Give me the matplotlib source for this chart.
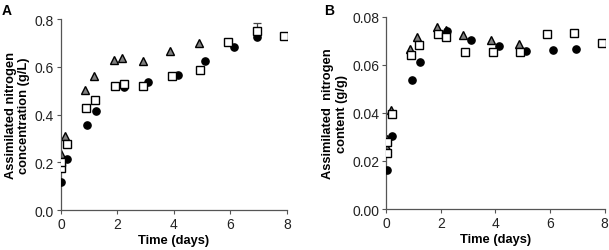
import matplotlib
matplotlib.use("Agg")
import matplotlib.pyplot as plt
import numpy as np

plt.rcParams['font.family'] = ['Liberation Sans', 'DejaVu Sans']

# Panel A: assimilated nitrogen concentration (g/L)
a_circ_x = [0.0, 0.2, 0.93, 1.23, 2.23, 3.1, 4.13, 5.1, 6.12, 6.93]
a_circ_y = [0.117, 0.216, 0.356, 0.415, 0.517, 0.535, 0.566, 0.626, 0.684, 0.723]
a_sq_x = [0.0, 0.02, 0.2, 0.88, 1.2, 1.91, 2.23, 2.91, 3.92, 4.92, 5.91, 6.93, 7.9]
a_sq_y = [0.176, 0.203, 0.275, 0.426, 0.462, 0.518, 0.528, 0.518, 0.563, 0.587, 0.702, 0.749, 0.728]
a_sq_err = [0, 0, 0, 0, 0, 0, 0, 0, 0, 0, 0, 0.033, 0]
a_tri_x = [0.0, 0.14, 0.85, 1.17, 1.88, 2.16, 2.91, 3.86, 4.88]
a_tri_y = [0.235, 0.311, 0.504, 0.563, 0.628, 0.635, 0.624, 0.665, 0.70]

# Panel B: assimilated nitrogen content (g/g)
b_circ_x = [0.05, 0.23, 0.96, 1.25, 2.23, 3.1, 4.13, 5.12, 6.11, 6.94]
b_circ_y = [0.0162, 0.0302, 0.0536, 0.061, 0.0738, 0.0702, 0.0678, 0.0657, 0.066, 0.0664]
b_sq_x = [0.05, 0.05, 0.22, 0.91, 1.2, 1.9, 2.2, 2.89, 3.9, 4.9, 5.88, 6.88, 7.89]
b_sq_y = [0.0235, 0.028, 0.0395, 0.064, 0.0682, 0.0729, 0.0716, 0.0651, 0.0651, 0.0651, 0.0726, 0.0731, 0.0692]
b_tri_x = [0.05, 0.05, 0.17, 0.88, 1.13, 1.86, 2.18, 2.83, 3.82, 4.85]
b_tri_y = [0.0255, 0.029, 0.041, 0.0664, 0.0716, 0.0757, 0.0746, 0.0722, 0.0701, 0.0684]

xticks = [0, 2, 4, 6, 8]
a_yticks = [0.0, 0.2, 0.4, 0.6, 0.8]
b_yticks = [0.00, 0.02, 0.04, 0.06, 0.08]

fig = plt.figure(figsize=(6.09, 2.51), dpi=100)
axA = fig.add_axes([0.100, 0.159, 0.371, 0.761])
axB = fig.add_axes([0.634, 0.163, 0.359, 0.767])

ms = 5.2
def style(ax):
    for s in ['top', 'right']:
        ax.spines[s].set_visible(False)
    for s in ['left', 'bottom']:
        ax.spines[s].set_color('#555555')
        ax.spines[s].set_linewidth(0.9)
    ax.tick_params(direction='out', length=3, width=0.8, colors='#555555',
                   labelcolor='#222222', labelsize=10, pad=2)

lab_fs = 9.3

# Panel A
axA.errorbar(a_sq_x, a_sq_y, yerr=[np.zeros(len(a_sq_err)), a_sq_err], fmt='none',
             ecolor='#444444', elinewidth=0.9, capsize=3, capthick=0.9, zorder=1)
axA.plot(a_tri_x, a_tri_y, linestyle='none', marker='^', ms=ms, mfc='#7f7f7f', mec='black', mew=1.0, zorder=2)
axA.plot(a_circ_x, a_circ_y, linestyle='none', marker='o', ms=ms, mfc='black', mec='black', zorder=3)
axA.plot(a_sq_x, a_sq_y, linestyle='none', marker='s', ms=ms, mfc='white', mec='black', mew=1.0, zorder=4)
axA.set_xlim(0, 8)
axA.set_ylim(0, 0.8)
axA.set_xticks(xticks)
axA.set_yticks(a_yticks)
axA.set_yticklabels([f"{v:.1f}" for v in a_yticks])
style(axA)
axA.set_xlabel('Time (days)', fontweight='bold', fontsize=lab_fs, labelpad=2)
axA.set_ylabel('Assimilated nitrogen\nconcentration (g/L)', fontweight='bold', fontsize=lab_fs, labelpad=3)
fig.text(0.003, 0.985, 'A', fontweight='bold', fontsize=10, va='top', ha='left')

# Panel B
axB.plot(b_tri_x, b_tri_y, linestyle='none', marker='^', ms=ms, mfc='#7f7f7f', mec='black', mew=1.0, zorder=2)
axB.plot(b_circ_x, b_circ_y, linestyle='none', marker='o', ms=ms, mfc='black', mec='black', zorder=3)
axB.plot(b_sq_x, b_sq_y, linestyle='none', marker='s', ms=ms, mfc='white', mec='black', mew=1.0, zorder=4)
axB.set_xlim(0, 8)
axB.set_ylim(0, 0.08)
axB.set_xticks(xticks)
axB.set_yticks(b_yticks)
axB.set_yticklabels([f"{v:.2f}" for v in b_yticks])
style(axB)
axB.set_xlabel('Time (days)', fontweight='bold', fontsize=lab_fs, labelpad=2)
axB.set_ylabel('Assimilated  nitrogen\ncontent (g/g)', fontweight='bold', fontsize=lab_fs, labelpad=3)
fig.text(0.533, 0.985, 'B', fontweight='bold', fontsize=10, va='top', ha='left')

fig.savefig('out.png', dpi=100)
